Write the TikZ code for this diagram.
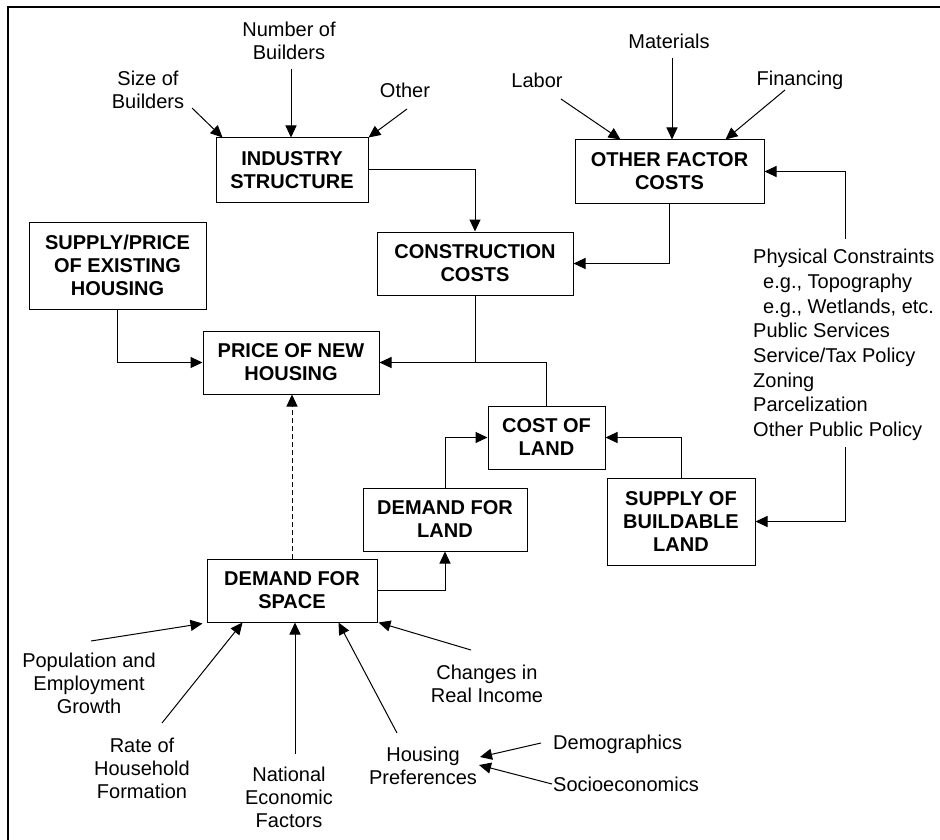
\documentclass[tikz,border=0pt]{standalone}
\usepackage{fontspec}
\setmainfont{Liberation Sans}
\usetikzlibrary{arrows.meta}
\begin{document}
\begin{tikzpicture}[x=1pt,y=-1pt,
  box/.style={draw,line width=1pt,font=\bfseries\fontsize{20}{23}\selectfont,align=center,inner sep=0pt},
  lbl/.style={font=\fontsize{20}{23}\selectfont,align=center,inner sep=0pt},
  conn/.style={line width=1pt},
  arr/.style={conn,-{Triangle[length=12pt,width=11pt]}},
  dsh/.style={arr,dash pattern=on 5pt off 3pt},
  framelin/.style={line width=2pt}]
\useasboundingbox (0,0) rectangle (940,840);
\draw[framelin] (8,840) -- (8,7) -- (940,7);

% boxes
\node[box,minimum width=152pt,minimum height=64pt] (ind) at (292,170) {INDUSTRY\\STRUCTURE};
\node[box,minimum width=177pt,minimum height=87pt] (exist) at (117.5,265.5) {SUPPLY/PRICE\\OF EXISTING\\HOUSING};
\node[box,minimum width=196pt,minimum height=63pt] (cons) at (475,263.5) {CONSTRUCTION\\COSTS};
\node[box,minimum width=189pt,minimum height=63pt] (ofc) at (669.5,171.5) {OTHER FACTOR\\COSTS};
\node[box,minimum width=176pt,minimum height=63pt] (pnh) at (291,362.5) {PRICE OF NEW\\HOUSING};
\node[box,minimum width=117pt,minimum height=63pt] (col) at (546.5,437.5) {COST OF\\LAND};
\node[box,minimum width=164pt,minimum height=63pt] (dfl) at (445,519.5) {DEMAND FOR\\LAND};
\node[box,minimum width=148pt,minimum height=87pt] (sbl) at (681,521.5) {SUPPLY OF\\BUILDABLE\\LAND};
\node[box,minimum width=170pt,minimum height=63pt] (dfs) at (292,590.5) {DEMAND FOR\\SPACE};

% labels
\node[lbl] (sizeB) at (148,90) {Size of\\Builders};
\node[lbl] (numB) at (289,41) {Number of\\Builders};
\node[lbl] (other) at (405,90) {Other};
\node[lbl] (labor) at (537,80) {Labor};
\node[lbl] (mat) at (669,41) {Materials};
\node[lbl] (fin) at (800,80) {Financing};
\node[lbl,align=left,anchor=north west,font=\fontsize{20}{24.7}\selectfont] (phys) at (753,249)
  {Physical Constraints\\\hspace*{10pt}e.g., Topography\\\hspace*{10pt}e.g., Wetlands, etc.\\Public Services\\Service/Tax Policy\\Zoning\\Parcelization\\Other Public Policy};
\node[lbl] (pop) at (89,683) {Population and\\Employment\\Growth};
\node[lbl] (rate) at (142,768) {Rate of\\Household\\Formation};
\node[lbl] (nat) at (289,797) {National\\Economic\\Factors};
\node[lbl] (hpref) at (423,766) {Housing\\Preferences};
\node[lbl] (chg) at (487,684) {Changes in\\Real Income};
\node[lbl,anchor=west] (demo) at (553,744) {Demographics};
\node[lbl,anchor=west] (socio) at (553,784) {Socioeconomics};

% free ends
\coordinate (tSize) at (192,108);
\coordinate (tNum) at (291,69);
\coordinate (tOther) at (407,109);
\coordinate (tLabor) at (561,99);
\coordinate (tMat) at (672,58);
\coordinate (tFin) at (785,90);
\coordinate (physTop) at (845,239);
\coordinate (physBot) at (845,447);
\coordinate (tPop) at (91,641);
\coordinate (tRate) at (162,723);
\coordinate (tNat) at (295,754);
\coordinate (tHp) at (397,733);
\coordinate (tChg) at (471,650);
\coordinate (hpTip1) at (480,757);
\coordinate (hpTip2) at (479,765);
\coordinate (tDemo) at (541,743);
\coordinate (tSocio) at (552,784);

% connectors
\draw[arr] (tSize) -- ([xshift=7pt]ind.north west);
\draw[arr] (tNum) -- (tNum |- ind.north);
\draw[arr] (tOther) -- (ind.north east);
\draw[arr] (tLabor) -- ([xshift=46pt]ofc.north west);
\draw[arr] (tMat) -- (tMat |- ofc.north);
\draw[arr] (tFin) -- ([xshift=-39pt]ofc.north east);
\draw[arr] (ind.east) -| (cons.north);
\draw[arr] (ofc.south) |- (cons.east);
\draw[arr] (physTop) |- (ofc.east);
\draw[conn] (cons.south) -- (cons.south |- pnh.east);
\draw[arr] (col.north) |- (pnh.east);
\draw[arr] (exist.south) |- (pnh.west);
\draw[dsh] (dfs.north) -- (dfs.north |- pnh.south);
\draw[arr] (dfs.east) -| (dfl.south);
\draw[arr] (dfl.north) |- (col.west);
\draw[arr] (sbl.north) |- (col.east);
\draw[arr] (physBot) |- (sbl.east);

\draw[arr] (tPop) -- ([xshift=-4pt,yshift=-1pt]dfs.south west);
\draw[arr] (tRate) -- ([xshift=36pt]dfs.south west);
\draw[arr] (tNat) -- (tNat |- dfs.south);
\draw[arr] (tHp) -- ([xshift=-39pt]dfs.south east);
\draw[arr] (tChg) -- ([xshift=1pt]dfs.south east);
\draw[arr] (tDemo) -- (hpTip1);
\draw[arr] (tSocio) -- (hpTip2);
\end{tikzpicture}
\end{document}
